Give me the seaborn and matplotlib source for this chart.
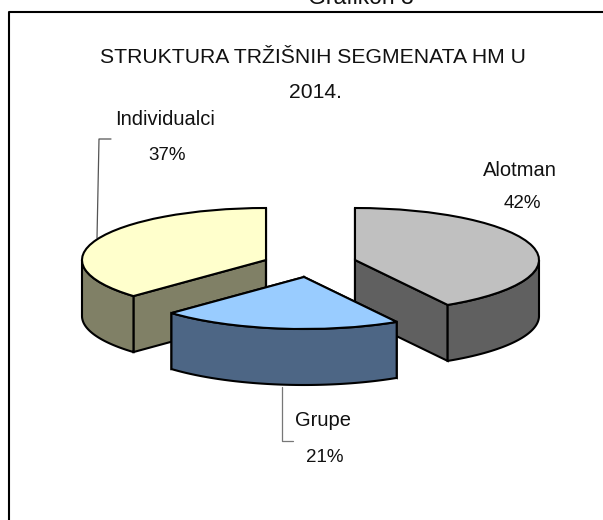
import numpy as np
import matplotlib
matplotlib.use("Agg")
import matplotlib.pyplot as plt
import seaborn as sns

# podaci
segments = ["Alotman", "Grupe", "Individualci"]
shares = [41.6, 21.2, 37.2]
top_colors = ["#C0C0C0", "#99CCFF", "#FFFFCC"]
wall_colors = ["#606060", "#4D6685", "#808066"]

W, H = 603, 520
RX, RY = 184, 52          # elipsa u pikselima
DEPTH = 56
K = RX / RY               # y skala, pie crta krug pa ga ovako splostimo
centers = {"Alotman": (355, 260), "Grupe": (304, 277), "Individualci": (266, 260)}

sns.set_theme(style="white")
plt.rcParams["font.family"] = ["Liberation Sans", "DejaVu Sans"]

fig = plt.figure(figsize=(W / 100, H / 100), dpi=100, facecolor="white")
ax = fig.add_axes([0, 0, 1, 1])


def py(y):
    return (H - y) * K


def arc(cx, cy, a1, a2):
    # kut u stupnjevima od vrha, u smjeru kazaljke
    t = np.radians(np.linspace(a1, a2, 80))
    return cx + RX * np.sin(t), py(cy) + RX * np.cos(t)


edges = np.cumsum([0] + shares) * 3.6
spans = dict(zip(segments, zip(edges[:-1], edges[1:])))
styles = dict(zip(segments, zip(top_colors, wall_colors)))
depth = DEPTH * K
order = {"Alotman": 2, "Individualci": 2, "Grupe": 4}


def draw_slice(name):
    a1, a2 = spans[name]
    top, wall = styles[name]
    cx, cy = centers[name]
    cy_d = py(cy)
    # rezne plohe
    for a in (a1, a2):
        xe = cx + RX * np.sin(np.radians(a))
        ye = cy_d + RX * np.cos(np.radians(a))
        ax.fill([cx, xe, xe, cx], [cy_d, ye, ye - depth, cy_d - depth],
                facecolor=wall, edgecolor="black", lw=1.5, zorder=order[name])
    # prednji zid
    f1, f2 = max(a1, 90), min(a2, 270)
    if f2 > f1:
        x, y = arc(cx, cy, f1, f2)
        ax.fill(np.r_[x, x[::-1]], np.r_[y, y[::-1] - depth],
                facecolor=wall, edgecolor="black", lw=1.5, zorder=order[name])
    share = shares[segments.index(name)]
    wedges, _ = ax.pie([share, 100 - share], startangle=90 - a1, counterclock=False, radius=RX,
                       center=(cx, cy_d), colors=[top, "none"], normalize=True,
                       wedgeprops=dict(edgecolor="black", linewidth=1.5))
    wedges[0].set_zorder(order[name] + 0.5)
    wedges[1].set_visible(False)


for name in ["Alotman", "Individualci", "Grupe"]:
    draw_slice(name)

ax.set_aspect("auto")
ax.set_xlim(0, W)
ax.set_ylim(0, H * K)
ax.axis("off")

# okvir, vidi se samo lijevo i gore
ax.plot([8.5, 8.5, W], [py(H), py(12), py(12)], color="black", lw=1.5, clip_on=False, zorder=1)

# linije do natpisa
ax.plot([111, 99, 97], [py(139), py(139), py(238)], color="#555555", lw=0.9, zorder=1)
ax.plot([282, 282, 293], [py(387), py(441), py(441)], color="#777777", lw=0.9, zorder=1)


def label(x, y, s, size=14.5, **kw):
    ax.text(x, py(y), s, ha="center", va="center", fontsize=size, color="#111111", **kw)


label(313, 57, "STRUKTURA TRŽIŠNIH SEGMENATA HM U", size=15.2)
label(315, 92, "2014.", size=15.2)
label(165, 119, "Individualci")
label(167, 155, f"{shares[2]:.0f}%", size=13.5)
label(520, 170, "Alotman")
label(522, 204, f"{shares[0]:.0f}%", size=13.5)
label(323, 421, "Grupe")
label(325, 457, f"{shares[1]:.0f}%", size=13.5)
# gornji naslov je odrezan rubom slike
ax.text(361, py(4), "Grafikon 3", ha="center", va="baseline", fontsize=16.5, color="#111111")

fig.savefig("out.png", dpi=100, facecolor="white")
